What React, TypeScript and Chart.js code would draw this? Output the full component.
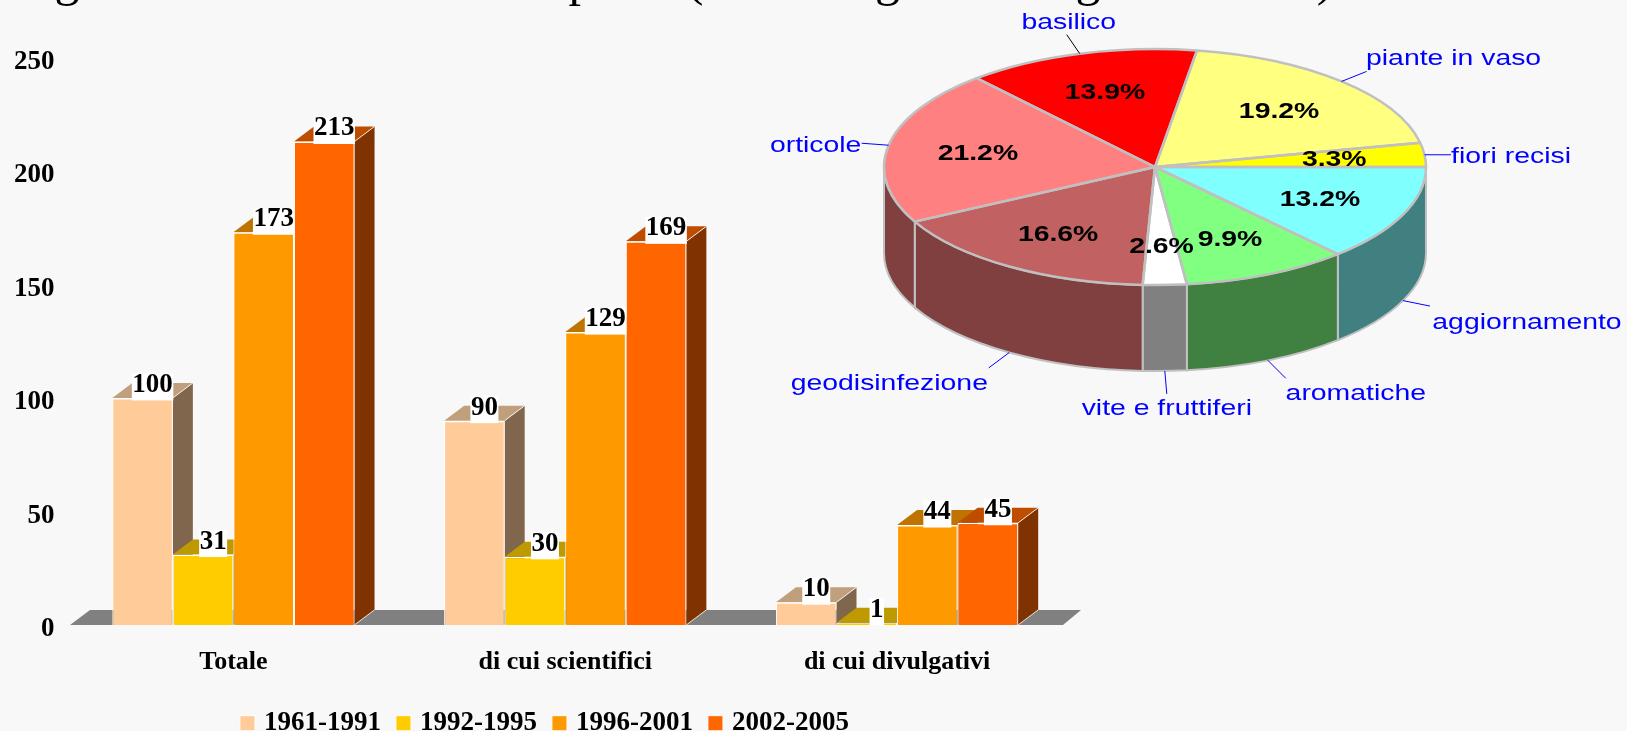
import React, { useEffect, useRef } from "react";
import { Chart, registerables } from "chart.js";

Chart.register(...registerables);

// ---------- data ----------
const barCategories = ["Totale", "di cui scientifici", "di cui divulgativi"];
const seriesNames = ["1961-1991", "1992-1995", "1996-2001", "2002-2005"];
const series1961 = [100, 90, 10];
const series1992 = [31, 30, 1];
const series1996 = [173, 129, 44];
const series2002 = [213, 169, 45];
const yTicks = [0, 50, 100, 150, 200, 250];

const pieLabels = ["aggiornamento", "aromatiche", "vite e fruttiferi", "geodisinfezione", "orticole", "basilico", "piante in vaso", "fiori recisi"];
const pieValues = [13.2, 9.9, 2.6, 16.6, 21.2, 13.9, 19.2, 3.3];

const titleFragments = ["g", "p", "(", "g", "g", ")"];

// ---------- styles ----------
const BG = "#F8F8F8";
const SERIF = '"Liberation Serif", serif';
const SANS = '"Liberation Sans", sans-serif';
const barFront = ["#FFCC99", "#FFCC00", "#FF9900", "#FF6600"];
const barTop = ["#C0A07C", "#BF9900", "#BF7300", "#BF4D00"];
const barSide = ["#80664C", "#806600", "#804D00", "#803300"];
const pieTop = ["#80FFFF", "#80FF80", "#FFFFFF", "PATTERN", "#FF8080", "#FF0000", "#FFFF80", "#FFFF00"];
const pieSide = ["#408080", "#408040", "#808080", "#804040", "#804040", "#800000", "#808040", "#808000"];
const leaderColors = ["#0000FF", "#0000FF", "#0000FF", "#0000FF", "#0000FF", "#000000", "#0000FF", "#0000FF"];
// offsets from each slice's rim anchor: leader end dx, dy, label centre dx, dy
const calloutOffsets = [
  [27, 5.5, 124, 22.5],
  [18, 18, 88, 34],
  [2, 23, 2, 38.5],
  [-20.6, 15.4, -120, 31.5],
  [-27, -2, -73, 1],
  [-13, -19, -11, -30.5],
  [25, -10, 112, -22.5],
  [26.5, 0, 86.5, 2],
];
const titleCentres = [67, 581, 695, 887.5, 1088, 1325];

// ---------- layout ----------
const BAR_W = 1087;
const PIE_LEFT = 740;
const PIE_W = 887;
const H = 731;
const DX = 20;
const DY = 15;
const PCX = 1155 - PIE_LEFT;
const PCY = 167;
const RX = 271;
const RY = 118;
const DEPTH = 86;
const STRETCH = 1.29;
const LEGEND_SHIFT = 15.2;

function drawDepth(ctx: any, meta: any, i: number) {
  ctx.save();
  ctx.lineWidth = 1;
  ctx.strokeStyle = "rgba(255,255,255,0.85)";
  for (const el of meta.data) {
    const l = el.x - el.width / 2;
    const r = el.x + el.width / 2;
    const t = el.y;
    const b = el.base;
    ctx.fillStyle = barTop[i];
    ctx.beginPath();
    ctx.moveTo(l, t);
    ctx.lineTo(l + DX, t - DY);
    ctx.lineTo(r + DX, t - DY);
    ctx.lineTo(r, t);
    ctx.closePath();
    ctx.fill();
    ctx.fillStyle = barSide[i];
    ctx.beginPath();
    ctx.moveTo(r, t);
    ctx.lineTo(r + DX, t - DY);
    ctx.lineTo(r + DX, b - DY);
    ctx.lineTo(r, b);
    ctx.closePath();
    ctx.fill();
    ctx.beginPath();
    ctx.moveTo(r, t);
    ctx.lineTo(r + DX, t - DY);
    ctx.moveTo(r, b);
    ctx.lineTo(r + DX, b - DY);
    ctx.stroke();
  }
  ctx.restore();
}

const bar3dPlugin = {
  id: "bar3d",
  afterLayout(chart: any) {
    chart.legend.left += LEGEND_SHIFT;
    chart.legend.right += LEGEND_SHIFT;
  },
  beforeDatasetsDraw(chart: any) {
    const { ctx, chartArea: a } = chart;
    ctx.save();
    ctx.fillStyle = "#808080";
    ctx.beginPath();
    ctx.moveTo(a.left + 2.5, a.bottom);
    ctx.lineTo(a.left + 2.5 + DX, a.bottom - DY);
    ctx.lineTo(a.right + 18, a.bottom - DY);
    ctx.lineTo(a.right, a.bottom);
    ctx.closePath();
    ctx.fill();
    ctx.restore();
    // left-to-right painting: each bar's front covers its left neighbour's side face
    chart.data.datasets.forEach((_: any, i: number) => {
      const meta = chart.getDatasetMeta(i);
      drawDepth(ctx, meta, i);
      meta.data.forEach((el: any) => el.draw(ctx));
    });
  },
  beforeDatasetDraw() {
    return false;
  },
  afterDatasetsDraw(chart: any) {
    const { ctx } = chart;
    ctx.save();
    ctx.font = `bold 27px ${SERIF}`;
    ctx.textAlign = "center";
    ctx.textBaseline = "middle";
    chart.data.datasets.forEach((ds: any, i: number) => {
      chart.getDatasetMeta(i).data.forEach((el: any, j: number) => {
        const text = String(ds.data[j]);
        const cx = el.x + DX / 2;
        const w = ctx.measureText(text).width + 1;
        ctx.fillStyle = "#FFFFFF";
        ctx.fillRect(cx - w / 2, el.y - 24.5, w, 27);
        ctx.fillStyle = "#000000";
        ctx.fillText(text, cx, el.y - 13);
      });
    });
    ctx.restore();
  },
};

const pie3dPlugin = {
  id: "pie3d",
  beforeDatasetDraw(chart: any, args: any) {
    const { ctx } = chart;
    const arcs = args.meta.data;
    ctx.save();
    ctx.lineWidth = 2;
    ctx.strokeStyle = "#C0C0C0";
    arcs.forEach((arc: any, i: number) => {
      const s = Math.max(arc.startAngle, 0);
      const e = Math.min(arc.endAngle, Math.PI);
      if (e <= s) return;
      ctx.fillStyle = pieSide[i];
      ctx.beginPath();
      ctx.ellipse(PCX, PCY, RX, RY, 0, s, e);
      ctx.ellipse(PCX, PCY + DEPTH, RX, RY, 0, e, s, true);
      ctx.closePath();
      ctx.fill();
      ctx.stroke();
    });
    ctx.restore();
    ctx.save();
    const c = arcs[0];
    ctx.translate(PCX, PCY);
    ctx.scale(1, RY / RX);
    ctx.translate(-c.x, -c.y);
  },
  afterDatasetDraw(chart: any, args: any) {
    const { ctx } = chart;
    ctx.restore();
    const arcs = args.meta.data;
    ctx.save();
    ctx.lineWidth = 2.5;
    ctx.strokeStyle = "#C0C0C0";
    ctx.lineJoin = "round";
    arcs.forEach((arc: any) => {
      ctx.beginPath();
      ctx.moveTo(PCX, PCY);
      ctx.ellipse(PCX, PCY, RX, RY, 0, arc.startAngle, arc.endAngle);
      ctx.closePath();
      ctx.stroke();
    });
    // percentage labels
    ctx.textAlign = "center";
    ctx.textBaseline = "middle";
    arcs.forEach((arc: any, i: number) => {
      const m = (arc.startAngle + arc.endAngle) / 2;
      const x = PCX + RX * 0.665 * Math.cos(m);
      const y = PCY + RY * 0.665 * Math.sin(m) + 1.5;
      ctx.save();
      ctx.translate(x, y);
      ctx.scale(STRETCH, 1);
      ctx.font = `bold 22px ${SANS}`;
      ctx.fillStyle = "#000000";
      ctx.fillText(`${pieValues[i].toFixed(1)}%`, 0, 0);
      ctx.restore();
    });
    // callouts
    arcs.forEach((arc: any, i: number) => {
      const m = (arc.startAngle + arc.endAngle) / 2;
      const front = Math.sin(m) > 0.3;
      const ax = PCX + RX * Math.cos(m);
      const ay = PCY + RY * Math.sin(m) + (front ? DEPTH : 0);
      const [lx, ly, tx, ty] = calloutOffsets[i];
      ctx.strokeStyle = leaderColors[i];
      ctx.lineWidth = 1;
      ctx.beginPath();
      ctx.moveTo(ax, ay);
      ctx.lineTo(ax + lx, ay + ly);
      ctx.stroke();
      ctx.save();
      ctx.translate(ax + tx, ay + ty);
      ctx.scale(STRETCH, 1);
      ctx.font = `22px ${SANS}`;
      ctx.fillStyle = "#0000FF";
      ctx.fillText(pieLabels[i], 0, 0);
      ctx.restore();
    });
    ctx.restore();
  },
};

function makePattern(): any {
  const c = document.createElement("canvas");
  c.width = 2;
  c.height = 2;
  const x = c.getContext("2d") as CanvasRenderingContext2D;
  x.fillStyle = "#CC6666";
  x.fillRect(0, 0, 2, 2);
  x.fillStyle = "#B85C5C";
  x.fillRect(0, 0, 1, 1);
  x.fillRect(1, 1, 1, 1);
  return x.createPattern(c, "repeat");
}

export default function App() {
  const barRef = useRef<HTMLCanvasElement>(null);
  const pieRef = useRef<HTMLCanvasElement>(null);

  useEffect(() => {
    document.body.style.margin = "0";
    document.body.style.overflow = "hidden";
    document.body.style.background = BG;
    const barSeries = [series1961, series1992, series1996, series2002];
    const bar = new Chart(barRef.current as HTMLCanvasElement, {
      type: "bar",
      plugins: [bar3dPlugin],
      data: {
        labels: barCategories,
        datasets: seriesNames.map((name, i) => ({
          label: name,
          data: barSeries[i],
          backgroundColor: barFront[i],
          borderColor: "#FFFFFF",
          borderWidth: { top: 1.5, left: 1, right: 1, bottom: 0 },
          borderSkipped: false,
          categoryPercentage: 0.73,
          barPercentage: 1,
        })),
      },
      options: {
        animation: false,
        responsive: false,
        events: [],
        layout: { padding: { top: 57.5, left: 0, right: 24, bottom: -15.7 } },
        plugins: {
          tooltip: { enabled: false },
          title: { display: false },
          legend: {
            position: "bottom",
            labels: {
              usePointStyle: true,
              pointStyle: "rect",
              boxWidth: 6,
              boxHeight: 15,
              padding: 19.5,
              color: "#000000",
              font: { family: SERIF, size: 27, weight: "bold" },
            },
          },
        },
        scales: {
          x: {
            grid: { display: false, drawTicks: false },
            border: { display: false },
            afterFit(s: any) { s.height = 65.3; },
            ticks: {
              color: "#000000",
              padding: 22,
              maxRotation: 0,
              autoSkip: false,
              font: { family: SERIF, size: 26, weight: "bold" },
            },
          },
          y: {
            min: 0,
            max: 250,
            grid: { display: false, drawTicks: false },
            border: { display: false },
            afterFit(s: any) { s.width = 67.5; },
            afterBuildTicks(s: any) { s.ticks = yTicks.map((v) => ({ value: v })); },
            ticks: {
              color: "#000000",
              padding: 13,
              labelOffset: 4.5,
              font: { family: SERIF, size: 27, weight: "bold" },
            },
          },
        },
      },
    } as any);

    const pat = makePattern();
    const pie = new Chart(pieRef.current as HTMLCanvasElement, {
      type: "pie",
      plugins: [pie3dPlugin],
      data: {
        labels: pieLabels,
        datasets: [{
          data: pieValues,
          backgroundColor: pieTop.map((c) => (c === "PATTERN" ? pat : c)),
          borderWidth: 0,
          clip: false,
          radius: RX,
        }],
      },
      options: {
        animation: false,
        responsive: false,
        events: [],
        rotation: 90,
        plugins: { legend: { display: false }, tooltip: { enabled: false } },
      },
    } as any);

    return () => {
      bar.destroy();
      pie.destroy();
    };
  }, []);

  return (
    <div style={{ position: "fixed", left: 0, top: 0, width: 1627, height: H, overflow: "hidden", background: BG }}>
      {titleFragments.map((t, i) => (
        <span
          key={i}
          style={{
            position: "absolute",
            left: titleCentres[i],
            top: -47,
            transform: "translateX(-50%)",
            font: `50px/50px ${SERIF}`,
            color: "#000",
          }}
        >
          {t}
        </span>
      ))}
      <canvas ref={barRef} width={BAR_W} height={H} style={{ position: "absolute", left: 0, top: 0, width: BAR_W, height: H }} />
      <canvas ref={pieRef} width={PIE_W} height={H} style={{ position: "absolute", left: PIE_LEFT, top: 0, width: PIE_W, height: H }} />
    </div>
  );
}
